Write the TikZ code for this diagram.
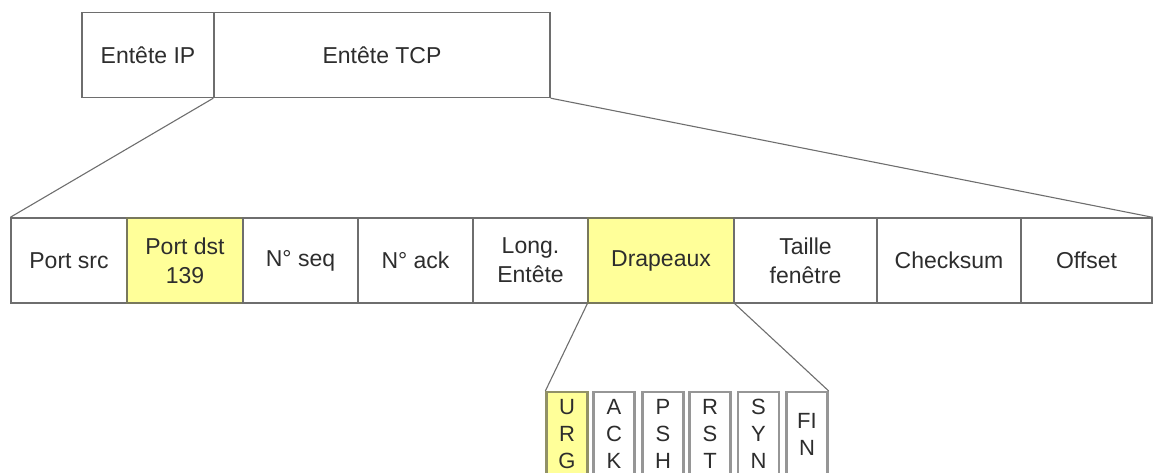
\documentclass[tikz,border=0pt]{standalone}
\usepackage{fontspec}
\setmainfont{Liberation Sans}
\definecolor{hilite}{RGB}{255,255,153}
\definecolor{edge}{RGB}{110,110,110}
\definecolor{flagedge}{RGB}{150,150,150}
\definecolor{ink}{RGB}{45,45,45}
\begin{document}
\begin{tikzpicture}[x=1pt,y=-1pt,
  cell/.style={draw=edge, line width=1.4pt, fill=white, minimum height=85pt,
    inner sep=0pt, align=center, text=ink,
    font=\fontsize{23}{29}\selectfont},
  marked/.style={fill=hilite, draw=black!55!hilite!60!gray},
  flagbox/.style={draw=flagedge, line width=2.2pt, fill=white, minimum width=41pt,
    minimum height=84pt, inner sep=0pt, align=center, text=ink,
    font=\fontsize{22}{27}\selectfont},
  link/.style={draw=edge, line width=1.1pt}]
\useasboundingbox (0,0) rectangle (1155,473);

% packet: IP header followed by TCP header
\node[cell, minimum width=132pt] (ip)  at (148,55) {Entête IP};
\node[cell, minimum width=336pt] (tcp) at (382,55) {Entête TCP};

% fields of the TCP header
\node[cell, minimum width=116pt] (src)  at (69,260.5)   {Port src};
\node[cell, marked, minimum width=116pt] (dst) at (185,260.5) {Port dst\\139};
\node[cell, minimum width=115pt] (seq)  at (300.5,260.5) {N° seq};
\node[cell, minimum width=115pt] (ack)  at (415.5,260.5) {N° ack};
\node[cell, minimum width=115pt] (len)  at (530.5,260.5) {Long.\\Entête};
\node[cell, marked, minimum width=146pt] (flags) at (661,260.5) {Drapeaux};
\node[cell, minimum width=143pt] (win)  at (805.5,260.5) {Taille\\fenêtre};
\node[cell, minimum width=144pt] (csum) at (949,260.5)  {Checksum};
\node[cell, minimum width=131pt] (off)  at (1086.5,260.5) {Offset};

% individual flag bits
\node[flagbox, fill=hilite, draw=black!40!hilite!70!gray] (urg) at (567,434) {U\\R\\G};
\node[flagbox] (fack) at (614,434) {A\\C\\K};
\node[flagbox] (psh)  at (663,434) {P\\S\\H};
\node[flagbox] (rst)  at (710,434) {R\\S\\T};
\node[flagbox] (syn)  at (758.5,434) {S\\Y\\N};
\node[flagbox] (fin)  at (807,434) {FI\\N};

% zoom lines
\draw[link] (tcp.south west) -- (src.north west);
\draw[link] (tcp.south east) -- (off.north east);
\draw[link] (flags.south west) -- (urg.north west);
\draw[link] (flags.south east) -- (fin.north east);
\end{tikzpicture}
\end{document}
